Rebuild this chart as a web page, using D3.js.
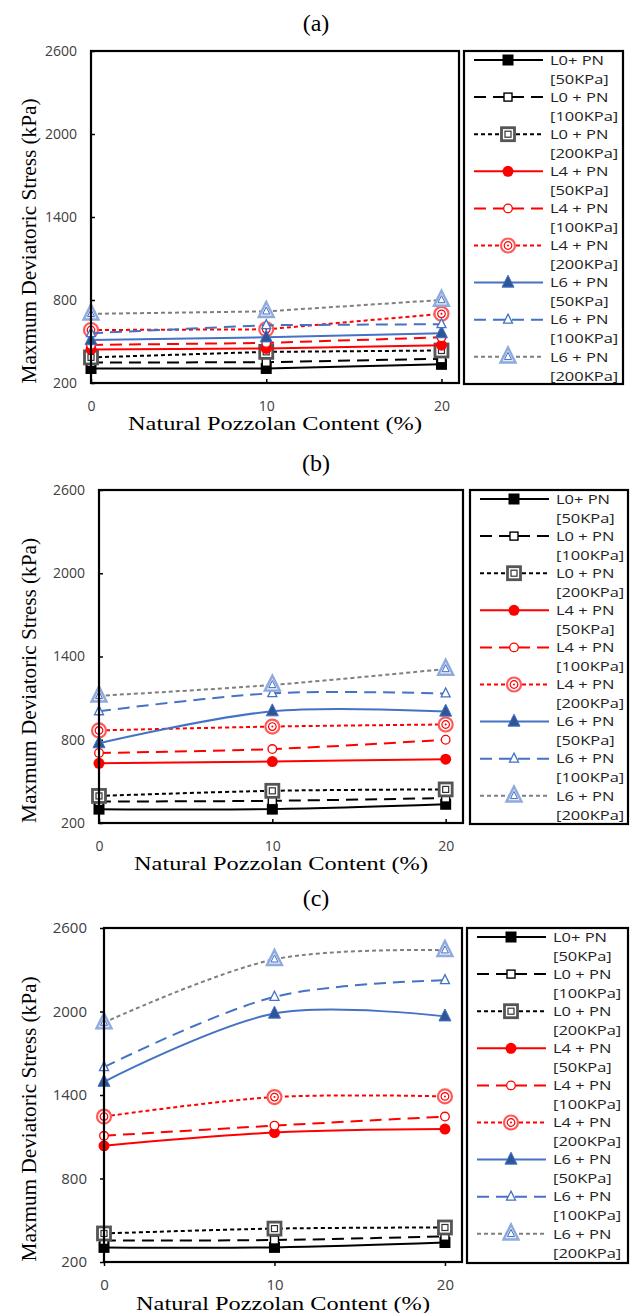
<!DOCTYPE html>
<html>
<head>
<meta charset="utf-8">
<script src="https://cdn.jsdelivr.net/npm/d3@7"></script>
<style>
    body { margin: 0; background: #fff; }
    svg { display: block; }
</style>
</head>
<body>
<svg id="chart" width="632" height="1313"></svg>
<script>
// x values (natural pozzolan content, %)
const xValues = [0, 10, 20];
const xTicks = [0, 10, 20];
const yTicks = [200, 800, 1400, 2000, 2600];

const panelTitles = ["(a)", "(b)", "(c)"];

// legend text, two lines per series
const seriesNames = ["L0+ PN", "L0 + PN", "L0 + PN", "L4 + PN", "L4 + PN", "L4 + PN", "L6 + PN", "L6 + PN", "L6 + PN"];
const seriesPressures = ["[50KPa]", "[100KPa]", "[200KPa]", "[50KPa]", "[100KPa]", "[200KPa]", "[50KPa]", "[100KPa]", "[200KPa]"];

// max deviatoric stress (kPa), one row per series, in the order above
const stressA = [
    [305, 305, 335],
    [348, 350, 375],
    [385, 425, 435],
    [443, 450, 473],
    [475, 490, 530],
    [583, 588, 700],
    [510, 530, 560],
    [560, 618, 625],
    [700, 718, 800]
];
const stressB = [
    [300, 300, 335],
    [355, 360, 380],
    [395, 432, 442],
    [630, 643, 660],
    [705, 733, 800],
    [867, 895, 910],
    [775, 1005, 1003],
    [1005, 1135, 1133],
    [1117, 1195, 1310]
];
const stressC = [
    [305, 305, 340],
    [355, 358, 385],
    [405, 440, 448],
    [1035, 1130, 1155],
    [1107, 1180, 1245],
    [1245, 1385, 1390],
    [1495, 1985, 1965],
    [1600, 2105, 2225],
    [1920, 2375, 2440]
];

const BLUE = "#4472C4";
const LIGHTBLUE = "#8FAADC";

// line look for each series
const lineColors = ["#000", "#000", "#000", "#ff0000", "#ff0000", "#ff0000", BLUE, BLUE, "#7f7f7f"];
const lineDashes = [null, "12,7", "4,3", null, "12,7", "4,3", null, "12,7", "4,3"];

// layout of the three panels (pixels)
const panels = [
    { data: stressA, left: 91, top: 51, right: 459, bottom: 383, legL: 464, legR: 623, titleY: 23, font: 14, curve: d3.curveLinear, tickIn: true },
    { data: stressB, left: 99, top: 490, right: 463, bottom: 823, legL: 470, legR: 628, titleY: 463, font: 14, curve: d3.curveCatmullRom, tickIn: true },
    { data: stressC, left: 104, top: 928, right: 462, bottom: 1262, legL: 467, legR: 628, titleY: 898, font: 15, curve: d3.curveCatmullRom, tickIn: false }
];

const SERIF = "'Liberation Serif', 'Times New Roman', serif";
const SANS = "'Open Sans', 'DejaVu Sans', sans-serif";
const LEGEND_STRETCH = 1.22; // legend text in the figure is wider than it is tall

const svg = d3.select("#chart");

function triPath(s) {
    return `M0,${-s * 0.62}L${s / 2},${s * 0.38}L${-s / 2},${s * 0.38}Z`;
}

// draws the marker of series i at (x, y)
function drawMarker(g, i, x, y) {
    const m = g.append("g").attr("transform", `translate(${x},${y})`);
    switch (i) {
        case 0:
            m.append("rect").attr("x", -5.5).attr("y", -5.5).attr("width", 11).attr("height", 11).attr("fill", "#000");
            break;
        case 1:
            m.append("rect").attr("x", -4).attr("y", -4).attr("width", 8).attr("height", 8)
                .attr("fill", "#fff").attr("stroke", "#000").attr("stroke-width", 1.4);
            break;
        case 2:
            m.append("rect").attr("x", -6.5).attr("y", -6.5).attr("width", 13).attr("height", 13)
                .attr("fill", "#fff").attr("stroke", "#555").attr("stroke-width", 2.8);
            m.append("rect").attr("x", -3).attr("y", -3).attr("width", 6).attr("height", 6)
                .attr("fill", "#fff").attr("stroke", "#333").attr("stroke-width", 1.2);
            break;
        case 3:
            m.append("circle").attr("r", 5.5).attr("fill", "#ff0000");
            break;
        case 4:
            m.append("circle").attr("r", 4.3).attr("fill", "#fff").attr("stroke", "#ff0000").attr("stroke-width", 1.3);
            break;
        case 5:
            m.append("circle").attr("r", 7).attr("fill", "#fff").attr("stroke", "#ff5a5a").attr("stroke-width", 2.2);
            m.append("circle").attr("r", 3.8).attr("fill", "#fff").attr("stroke", "#ff0000").attr("stroke-width", 1.2);
            m.append("circle").attr("r", 1).attr("fill", "#ff0000");
            break;
        case 6:
            m.append("path").attr("d", triPath(12)).attr("fill", "#2F5597").attr("stroke", BLUE).attr("stroke-width", 1);
            break;
        case 7:
            m.append("path").attr("d", triPath(9)).attr("fill", "#fff").attr("stroke", BLUE).attr("stroke-width", 1.3);
            break;
        case 8:
            m.append("path").attr("d", triPath(15)).attr("fill", "#e4ebf7").attr("stroke", LIGHTBLUE).attr("stroke-width", 2.4);
            m.append("path").attr("d", triPath(7)).attr("fill", "#fff").attr("stroke", BLUE).attr("stroke-width", 1);
            break;
    }
}

// legend text, stretched sideways to match the figure
function legendText(g, x, y, str) {
    const t = g.append("text")
        .attr("x", x).attr("y", y).attr("dy", "0.35em")
        .attr("fill", "#222")
        .style("font-family", SANS).style("font-size", "13.5px")
        .text(str);
    const w = t.node().getComputedTextLength();
    t.attr("textLength", w * LEGEND_STRETCH).attr("lengthAdjust", "spacingAndGlyphs");
}

panels.forEach((p, pi) => {
    const g = svg.append("g");

    const xScale = d3.scaleLinear().domain([0, 21]).range([p.left, p.right]);
    const yScale = d3.scaleLinear().domain([200, 2600]).range([p.bottom, p.top]);

    // panel title
    g.append("text")
        .attr("x", 316).attr("y", p.titleY).attr("dy", "0.35em")
        .attr("text-anchor", "middle")
        .style("font-family", SERIF).style("font-size", "24px")
        .text(panelTitles[pi]);

    // axes
    const tickLen = p.tickIn ? -4 : 4;
    const yAxis = g.append("g")
        .attr("transform", `translate(${p.left},0)`)
        .call(d3.axisLeft(yScale).tickValues(yTicks).tickFormat(d3.format("d"))
            .tickSizeInner(tickLen).tickSizeOuter(0).tickPadding(p.tickIn ? 14 : 13));
    const xAxis = g.append("g")
        .attr("transform", `translate(0,${p.bottom})`)
        .call(d3.axisBottom(xScale).tickValues(xTicks).tickFormat(d3.format("d"))
            .tickSizeInner(tickLen).tickSizeOuter(0).tickPadding(p.tickIn ? 18 : 13));
    [yAxis, xAxis].forEach(a => {
        a.select(".domain").remove();
        a.selectAll(".tick line").attr("stroke", "#000").attr("stroke-width", 1.5);
        a.selectAll("text")
            .attr("fill", "#404040")
            .style("font-family", SANS)
            .style("font-size", p.font + "px");
    });

    // axis titles
    g.append("text")
        .attr("transform", `translate(29,${(p.top + p.bottom) / 2 + 24}) rotate(-90)`)
        .attr("dy", "0.35em")
        .attr("text-anchor", "middle")
        .attr("textLength", 285).attr("lengthAdjust", "spacingAndGlyphs")
        .style("font-family", SERIF).style("font-size", "20px")
        .text("Maxmum  Deviatoric  Stress (kPa)");
    g.append("text")
        .attr("x", (p.left + p.right) / 2).attr("y", p.bottom + (p.tickIn ? 41 : 42))
        .attr("dy", "0.35em")
        .attr("text-anchor", "middle")
        .attr("textLength", 294).attr("lengthAdjust", "spacingAndGlyphs")
        .style("font-family", SERIF).style("font-size", "18px")
        .text("Natural  Pozzolan  Content (%)");

    // series
    const line = d3.line()
        .x((d, i) => xScale(xValues[i]))
        .y(d => yScale(d))
        .curve(p.curve);

    p.data.forEach((vals, si) => {
        g.append("path")
            .attr("d", line(vals))
            .attr("fill", "none")
            .attr("stroke", lineColors[si])
            .attr("stroke-width", 2)
            .attr("stroke-dasharray", lineDashes[si]);
        vals.forEach((v, k) => drawMarker(g, si, xScale(xValues[k]), yScale(v)));
    });

    // plot frame
    g.append("rect")
        .attr("x", p.left).attr("y", p.top)
        .attr("width", p.right - p.left).attr("height", p.bottom - p.top)
        .attr("fill", "none").attr("stroke", "#000").attr("stroke-width", 2.2);

    // legend
    const leg = g.append("g");
    leg.append("rect")
        .attr("x", p.legL).attr("y", p.top)
        .attr("width", p.legR - p.legL).attr("height", p.bottom - p.top + 1)
        .attr("fill", "#fff").attr("stroke", "#000").attr("stroke-width", 2.2);

    seriesNames.forEach((name, si) => {
        const y = p.top + 9 + si * 37.1;
        leg.append("line")
            .attr("x1", p.legL + 10).attr("x2", p.legL + 79)
            .attr("y1", y).attr("y2", y)
            .attr("stroke", lineColors[si])
            .attr("stroke-width", 2)
            .attr("stroke-dasharray", lineDashes[si]);
        drawMarker(leg, si, p.legL + 44, y);
        legendText(leg, p.legL + 86, y, name);
        legendText(leg, p.legL + 86, y + 19, seriesPressures[si]);
    });
});
</script>
</body>
</html>
